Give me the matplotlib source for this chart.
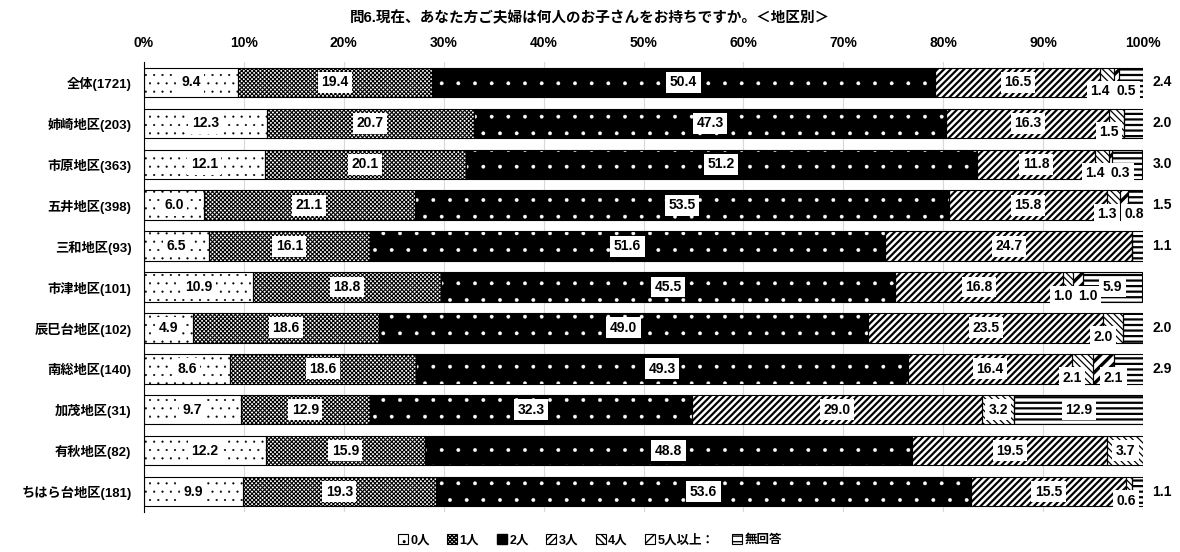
import numpy as np
import matplotlib
matplotlib.use('Agg')
import matplotlib.pyplot as plt
from matplotlib.patches import Patch

plt.rcParams['font.family'] = ['Liberation Sans', 'Noto Sans CJK JP', 'DejaVu Sans']
plt.rcParams['font.weight'] = 'bold'
plt.rcParams['hatch.linewidth'] = 1.0

title = '問6.現在、あなた方ご夫婦は何人のお子さんをお持ちですか。＜地区別＞'
categories = ['全体(1721)', '姉崎地区(203)', '市原地区(363)', '五井地区(398)', '三和地区(93)',
              '市津地区(101)', '辰巳台地区(102)', '南総地区(140)', '加茂地区(31)',
              '有秋地区(82)', 'ちはら台地区(181)']
series_names = ['0人', '1人', '2人', '3人', '4人', '5人以上：', '無回答']
v_0 = [9.4, 12.3, 12.1, 6.0, 6.5, 10.9, 4.9, 8.6, 9.7, 12.2, 9.9]
v_1 = [19.4, 20.7, 20.1, 21.1, 16.1, 18.8, 18.6, 18.6, 12.9, 15.9, 19.3]
v_2 = [50.4, 47.3, 51.2, 53.5, 51.6, 45.5, 49.0, 49.3, 32.3, 48.8, 53.6]
v_3 = [16.5, 16.3, 11.8, 15.8, 24.7, 16.8, 23.5, 16.4, 29.0, 19.5, 15.5]
v_4 = [1.4, 1.5, 1.4, 1.3, 0.0, 1.0, 2.0, 2.1, 3.2, 3.7, 0.6]
v_5 = [0.5, 0.0, 0.3, 0.8, 0.0, 1.0, 0.0, 2.1, 0.0, 0.0, 0.0]
v_na = [2.4, 2.0, 3.0, 1.5, 1.1, 5.9, 2.0, 2.9, 12.9, 0.0, 1.1]
xticks = [0, 10, 20, 30, 40, 50, 60, 70, 80, 90, 100]
xtick_labels = [f'{t}%' for t in xticks]

series = [v_0, v_1, v_2, v_3, v_4, v_5, v_na]
# style: facecolor, hatch colour, hatch, hatch linewidth
styles = [
    ('white', 'black', '..', 0.3),
    ('white', 'black', 'xxxxxxxx', 0.8),
    ('black', 'white', '.', 0.3),
    ('white', 'black', '/////', 1.6),
    ('white', 'black', '\\\\\\\\\\', 0.9),
    ('white', 'black', '///', 2.4),
    ('white', 'black', '---', 1.6),
]

fig = plt.figure(figsize=(11.8, 5.52), dpi=100)
ax = fig.add_axes([144 / 1180, 1 - 512 / 552, 999 / 1180, 450 / 552])

y = np.arange(len(categories))
bh = 0.72
left = np.zeros(len(categories))


def set_hlw(p, lw):
    if hasattr(p, 'set_hatch_linewidth'):
        p.set_hatch_linewidth(lw)


for j, vals in enumerate(series):
    fc, hc, hatch, hlw = styles[j]
    vals = np.array(vals)
    bars = ax.barh(y, vals, left=left, height=bh, color=fc, edgecolor=hc,
                   hatch=hatch, linewidth=0, zorder=2)
    for b in bars:
        set_hlw(b, hlw)
    ax.barh(y, vals, left=left, height=bh, fill=False, edgecolor='black',
            linewidth=0.8, zorder=3)
    for i, v in enumerate(vals):
        if v <= 0:
            continue
        txt = f'{v:.1f}'
        box = dict(facecolor='white', edgecolor='none', pad=2.5)
        if j <= 3 or (j in (4, 5) and v >= 3) or (j == 6 and v >= 5):
            ax.text(left[i] + v / 2, y[i], txt, ha='center', va='center',
                    fontsize=10, bbox=box, zorder=5)
        elif j == 4:
            ax.text(left[i], y[i] + 0.22, txt, ha='center', va='center',
                    fontsize=10, bbox=box, zorder=5)
        elif j == 5:
            ax.text(left[i] + v / 2 + 1.0, y[i] + 0.22, txt, ha='center',
                    va='center', fontsize=10, bbox=box, zorder=5)
        else:
            ax.text(101.9, y[i], txt, ha='center', va='center',
                    fontsize=10, clip_on=False, zorder=5)
    left = left + vals

ax.set_xlim(0, 100)
ax.set_ylim(len(categories) - 0.5, -0.5)
ax.set_xticks(xticks)
ax.set_xticklabels(xtick_labels, fontsize=10)
ax.xaxis.tick_top()
ax.tick_params(axis='x', length=0, pad=9)
ax.set_yticks(y)
ax.set_yticklabels(categories, fontsize=9.5)
ax.tick_params(axis='y', length=0, pad=9)
ax.set_axisbelow(True)
ax.xaxis.grid(True, color='#d9d9d9', linewidth=0.8, zorder=0)
for s in ['top', 'right', 'bottom']:
    ax.spines[s].set_visible(False)
ax.spines['left'].set_color('black')
ax.spines['left'].set_linewidth(0.8)
ax.spines['left'].set_zorder(4)

fig.text(0.5, 1 - 18 / 552, title, ha='center', va='center', fontsize=10.5)

handles = []
for j in range(len(series)):
    fc, hc, hatch, hlw = styles[j]
    if j == 2:
        p = Patch(facecolor='black', edgecolor='black')
    else:
        p = Patch(facecolor=fc, edgecolor='black', hatch=hatch, linewidth=0.8)
    handles.append(p)
fig.legend(handles, series_names, loc='center', bbox_to_anchor=(0.5, 1 - 540 / 552),
           ncol=7, frameon=False, fontsize=9, handlelength=0.8, handleheight=0.8,
           handletextpad=0.2, columnspacing=1.4, borderaxespad=0)

fig.savefig('out.png', dpi=100)
